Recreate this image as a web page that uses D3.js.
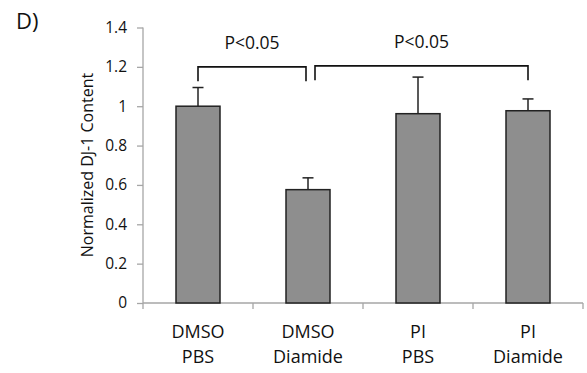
<!DOCTYPE html>
<html>
<head>
<meta charset="utf-8">
<script src="https://cdn.jsdelivr.net/npm/d3@7"></script>
<style>
  body { margin: 0; background: #fff; }
  svg text { font-family: "Open Sans", "Noto Sans", sans-serif; fill: #111; }
</style>
</head>
<body>
<div id="chart"></div>
<script>
// data
const groups = ['DMSO|PBS', 'DMSO|Diamide', 'PI|PBS', 'PI|Diamide'];
const means = [1.0, 0.576, 0.962, 0.977];
const errors = [0.095, 0.06, 0.186, 0.06];
const yTicks = [0, 0.2, 0.4, 0.6, 0.8, 1, 1.2, 1.4];
// significance brackets: [from group, to group, level, label]
const brackets = [
  { a: 0, b: 1, y: 1.2, dxA: 0, dxB: -2, label: 'P<0.05' },
  { a: 1, b: 3, y: 1.205, dxA: 7, dxB: 0, label: 'P<0.05' }
];

const W = 587, H = 373;
const margin = { top: 27.5, right: 4, bottom: 70, left: 143 };
const width = W - margin.left - margin.right;
const height = H - margin.top - margin.bottom;

const svg = d3.select('#chart').append('svg')
  .attr('width', W).attr('height', H);

svg.append('text')
  .attr('x', 16).attr('y', 28.5)
  .style('font-size', '22px')
  .text('D)');

const g = svg.append('g')
  .attr('transform', 'translate(' + margin.left + ',' + margin.top + ')');

const x = d3.scaleBand().domain(groups).range([0, 440]).paddingInner(0.6).paddingOuter(0.3);
const y = d3.scaleLinear().domain([0, 1.4]).range([height, 0]);

// y axis
const yAxis = g.append('g')
  .call(d3.axisLeft(y).tickValues(yTicks).tickSize(6).tickPadding(10)
    .tickFormat(d => d3.format('')(+d.toFixed(1))));
yAxis.selectAll('line, path').attr('stroke', '#a6a6a6').attr('stroke-width', 1.3);
yAxis.select('.domain').attr('d', 'M0,' + height + 'V0');
yAxis.selectAll('text').style('font-size', '15.5px').attr('fill', '#111');

svg.append('text')
  .attr('transform', 'translate(93,165) rotate(-90)')
  .attr('text-anchor', 'middle')
  .style('font-size', '16px')
  .text('Normalized DJ-1 Content');

// x axis: ticks between categories
const xAxisG = g.append('g').attr('transform', 'translate(0,' + height + ')');
const xEdge = d3.scaleLinear().domain([0, groups.length]).range([0, 440]);
xAxisG.append('path')
  .attr('d', 'M0,0H' + xEdge(groups.length))
  .attr('stroke', '#a6a6a6').attr('stroke-width', 1.3).attr('fill', 'none');
xAxisG.selectAll('line.tk')
  .data(d3.range(groups.length + 1))
  .join('line')
  .attr('class', 'tk')
  .attr('x1', d => xEdge(d)).attr('x2', d => xEdge(d))
  .attr('y1', 0).attr('y2', 6)
  .attr('stroke', '#a6a6a6').attr('stroke-width', 1.3);

const lab = xAxisG.selectAll('text.lab')
  .data(groups)
  .join('text')
  .attr('class', 'lab')
  .attr('text-anchor', 'middle')
  .style('font-size', '18px')
  .attr('transform', d => 'translate(' + (x(d) + x.bandwidth() / 2) + ',35)');
lab.append('tspan').attr('x', 0).attr('y', 0).text(d => d.split('|')[0]);
lab.append('tspan').attr('x', 0).attr('y', 24.5).text(d => d.split('|')[1]);

// error bars (upper only)
const cx = i => x(groups[i]) + x.bandwidth() / 2;
g.selectAll('line.err')
  .data(means)
  .join('line')
  .attr('class', 'err')
  .attr('x1', (d, i) => cx(i)).attr('x2', (d, i) => cx(i))
  .attr('y1', d => y(d)).attr('y2', (d, i) => y(d + errors[i]))
  .attr('stroke', '#222').attr('stroke-width', 1.5);
g.selectAll('line.cap')
  .data(means)
  .join('line')
  .attr('class', 'cap')
  .attr('x1', (d, i) => cx(i) - 5.5).attr('x2', (d, i) => cx(i) + 5.5)
  .attr('y1', (d, i) => y(d + errors[i])).attr('y2', (d, i) => y(d + errors[i]))
  .attr('stroke', '#222').attr('stroke-width', 1.5);

// bars
g.selectAll('rect.bar')
  .data(means)
  .join('rect')
  .attr('class', 'bar')
  .attr('x', (d, i) => x(groups[i]))
  .attr('width', x.bandwidth())
  .attr('y', d => y(d))
  .attr('height', d => height - y(d))
  .attr('fill', '#8e8e8e')
  .attr('stroke', '#222')
  .attr('stroke-width', 1.5);

// significance brackets
brackets.forEach(b => {
  const x1 = cx(b.a) + b.dxA, x2 = cx(b.b) + b.dxB;
  const yb = y(b.y), legEnd = y(b.y) + 14.5;
  g.append('path')
    .attr('d', 'M' + x1 + ',' + legEnd + 'V' + yb + 'H' + x2 + 'V' + legEnd)
    .attr('fill', 'none').attr('stroke', '#111').attr('stroke-width', 1.6);
  g.append('text')
    .attr('x', (x1 + x2) / 2).attr('y', yb - 18)
    .attr('text-anchor', 'middle')
    .style('font-size', '17.5px')
    .text(b.label);
});
</script>
</body>
</html>
